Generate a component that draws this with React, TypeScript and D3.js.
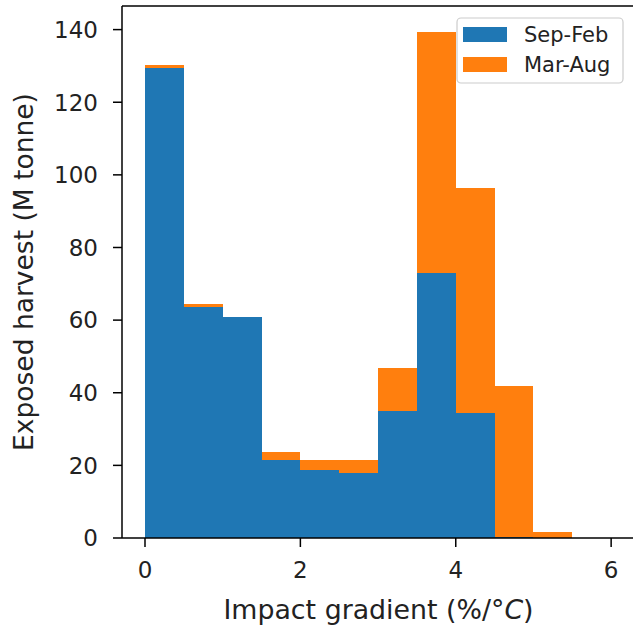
import React from 'react';
import * as d3 from 'd3';

// histogram bins (left edges), width 0.5
const binStarts = [0, 0.5, 1, 1.5, 2, 2.5, 3, 3.5, 4, 4.5, 5];
const binWidth = 0.5;
const sepFeb = [129.5, 63.5, 60.8, 21.5, 18.8, 17.8, 35.0, 73.1, 34.3, 0.3, 0];
const marAug = [0.8, 1.0, 0, 2.2, 2.7, 3.7, 11.7, 66.3, 62.2, 41.6, 1.7];
const seriesNames = ['Sep-Feb', 'Mar-Aug'];
const colors = ['#1f77b4', '#ff7f0e'];
const xTicks = [0, 2, 4, 6];
const yTicks = [0, 20, 40, 60, 80, 100, 120, 140];

const W = 633, H = 633;
const left = 122, top = 6, bottom = 538, right = 636;

export default function App() {
  const x = d3.scaleLinear().domain([-0.296, 6.32]).range([left, right]);
  const y = d3.scaleLinear().domain([0, 146.5]).range([bottom, top]);

  const rows = binStarts.map((b, i) => ({ b, s0: sepFeb[i], s1: marAug[i] }));
  const stacked = d3.stack<any>().keys(['s0', 's1'])(rows);

  const font = 'DejaVu Sans, sans-serif';

  return (
    <svg width={W} height={H} style={{ position: 'fixed', left: 0, top: 0, background: '#fff' }}>
      {stacked.map((layer, li) => (
        <g key={li} fill={colors[li]} shapeRendering="crispEdges">
          {layer.map((d, i) => {
            const h = y(d[0]) - y(d[1]);
            if (h <= 0) return null;
            return (
              <rect key={i} x={x(d.data.b)} width={x(d.data.b + binWidth) - x(d.data.b)}
                y={y(d[1])} height={h} />
            );
          })}
        </g>
      ))}

      {/* spines */}
      <g stroke="#000" strokeWidth={1.5} fill="none">
        <line x1={left} x2={left} y1={top} y2={bottom} />
        <line x1={left} x2={right} y1={bottom} y2={bottom} />
        <line x1={left} x2={right} y1={top} y2={top} />
      </g>

      {/* y axis */}
      {yTicks.map(t => (
        <g key={t} transform={`translate(0,${y(t)})`}>
          <line x1={left - 9} x2={left} stroke="#000" strokeWidth={1.5} />
          <text x={left - 24} dy="0.36em" textAnchor="end" fontSize={23} fontFamily={font} fill="#222">{t}</text>
        </g>
      ))}

      {/* x axis */}
      {xTicks.map(t => (
        <g key={t} transform={`translate(${x(t)},0)`}>
          <line y1={bottom} y2={bottom + 9} stroke="#000" strokeWidth={1.5} />
          <text y={bottom + 40} textAnchor="middle" fontSize={23} fontFamily={font} fill="#222">{t}</text>
        </g>
      ))}

      <text x={378.5} y={619} textAnchor="middle" fontSize={26.8} fontFamily={font} fill="#222">
        Impact gradient (%/°<tspan fontStyle="italic">C</tspan>)
      </text>
      <text transform={`translate(33,${(top + bottom) / 2}) rotate(-90)`} textAnchor="middle"
        fontSize={26.5} fontFamily={font} fill="#222">Exposed harvest (M tonne)</text>

      {/* legend */}
      <g>
        <rect x={457} y={18} width={166} height={65} rx={4} fill="#fff" fillOpacity={0.8} stroke="#ccc" strokeWidth={1.2} />
        {seriesNames.map((n, i) => (
          <g key={n} transform={`translate(0,${27 + i * 30})`}>
            <rect x={463} y={0} width={44} height={15} fill={colors[i]} />
            <text x={524} y={7.5} dy="0.36em" fontSize={21} fontFamily={font} fill="#222">{n}</text>
          </g>
        ))}
      </g>
    </svg>
  );
}
